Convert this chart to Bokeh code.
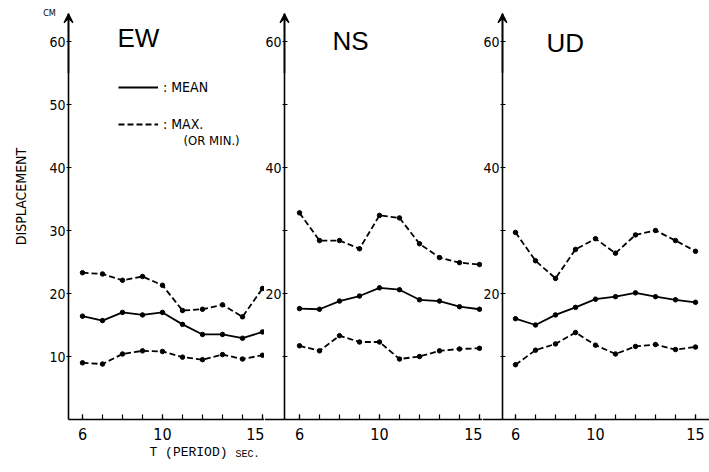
import math
from bokeh.plotting import figure
from bokeh.layouts import row
from bokeh.models import (FixedTicker, Range1d, Label, Legend, LegendItem, Arrow, VeeHead)
from bokeh.embed import file_html
from bokeh.resources import INLINE

# ---------------- data ----------------
period = [6, 7, 8, 9, 10, 11, 12, 13, 14, 15]

ew_max = [23.3, 23.1, 22.1, 22.7, 21.3, 17.3, 17.5, 18.2, 16.3, 20.8]
ew_mean = [16.4, 15.7, 17.0, 16.6, 17.0, 15.1, 13.5, 13.5, 12.9, 13.9]
ew_min = [9.0, 8.8, 10.4, 10.9, 10.8, 9.9, 9.5, 10.3, 9.6, 10.2]

ns_max = [32.8, 28.4, 28.4, 27.1, 32.4, 32.0, 27.9, 25.7, 24.9, 24.6]
ns_mean = [17.6, 17.5, 18.8, 19.6, 20.9, 20.6, 19.0, 18.8, 17.9, 17.5]
ns_min = [11.7, 10.9, 13.3, 12.3, 12.3, 9.6, 10.0, 10.9, 11.2, 11.3]

ud_max = [29.7, 25.2, 22.4, 27.0, 28.7, 26.4, 29.3, 30.0, 28.4, 26.7]
ud_mean = [16.0, 15.0, 16.6, 17.8, 19.1, 19.5, 20.1, 19.5, 19.0, 18.6]
ud_min = [8.7, 11.0, 12.0, 13.8, 11.8, 10.4, 11.6, 11.9, 11.1, 11.5]

x_ticks = [6, 10, 15]
ew_y_ticks = [10, 20, 30, 40, 50, 60]
ns_y_ticks = [20, 40, 60]
ns_y_minor = [10, 30, 50]
panel_names = ["EW", "NS", "UD"]

# ---------------- layout constants (pixels) ----------------
H = 472
Y0_PX = 419          # pixel row of displacement 0
PX_Y = 6.3           # pixels per cm
PX_X = 20.0          # pixels per second
Y_AXIS_TOP = 64.4    # where the y axis (arrow) ends
LABEL_FONT = "DejaVu Sans Condensed"
MONO = "Liberation Mono"
TITLE_FONT = "Liberation Sans"


def make_panel(fig_left, width, px6, axis_px, xaxis_from_left,
               y_major, y_minor, maxv, meanv, minv):
    # frame == whole figure; axes are pinned with fixed_location
    x_start = 6 + (fig_left - px6) / PX_X
    x_end = x_start + width / PX_X
    y_start = -(H - Y0_PX) / PX_Y
    y_end = Y0_PX / PX_Y
    x_axis_pos = 6 + (axis_px - px6) / PX_X

    p = figure(width=width, height=H, x_range=Range1d(x_start, x_end),
               y_range=Range1d(y_start, y_end), output_backend="svg",
               toolbar_location=None, title=None,
               min_border_left=0, min_border_right=0,
               min_border_top=0, min_border_bottom=0)
    p.outline_line_color = None
    p.xgrid.visible = False
    p.ygrid.visible = False
    p.background_fill_color = "white"
    p.border_fill_color = "white"

    xa = p.xaxis[0]
    xa.fixed_location = 0
    xa.bounds = ((x_start if xaxis_from_left else x_axis_pos), x_end)
    xa.ticker = FixedTicker(ticks=x_ticks, minor_ticks=period)
    xa.axis_line_width = 1.6
    xa.major_tick_in = 5
    xa.major_tick_out = 0
    xa.minor_tick_in = 5
    xa.minor_tick_out = 0
    xa.major_tick_line_width = 1.2
    xa.minor_tick_line_width = 1.2
    xa.major_label_standoff = 8
    xa.major_label_text_font = LABEL_FONT
    xa.major_label_text_font_size = "16px"
    xa.major_label_text_color = "black"

    ya = p.yaxis[0]
    ya.fixed_location = x_axis_pos
    ya.bounds = (0, Y_AXIS_TOP)
    ya.ticker = FixedTicker(ticks=y_major, minor_ticks=y_minor)
    ya.axis_line_width = 1.6
    ya.major_tick_in = 3
    ya.major_tick_out = 2
    ya.minor_tick_in = 3
    ya.minor_tick_out = 2
    ya.major_tick_line_width = 1.2
    ya.minor_tick_line_width = 1.2
    ya.major_label_standoff = 1
    ya.major_label_text_font = LABEL_FONT
    ya.major_label_text_font_size = "14px"
    ya.major_label_text_color = "black"

    r_max = p.line(period, maxv, line_color="black", line_width=1.8, line_dash="6 3")
    p.scatter(period, maxv, size=4.5, color="black")
    r_mean = p.line(period, meanv, line_color="black", line_width=1.8)
    p.scatter(period, meanv, size=4.5, color="black")
    p.line(period, minv, line_color="black", line_width=1.8, line_dash="6 3")
    p.scatter(period, minv, size=4.5, color="black")

    p.add_layout(Arrow(x_start=x_axis_pos, y_start=55, x_end=x_axis_pos, y_end=Y_AXIS_TOP,
                       line_width=1.6, line_color="black",
                       end=VeeHead(size=9, line_width=1.2, line_color="black",
                                   fill_color="black")))
    geo = (fig_left, x_start)
    return p, r_mean, r_max, geo


def lab(p, geo, px, py, text, size, font, align="left", baseline="middle", angle=0.0):
    # px, py: page pixel position of the text anchor
    fig_left, x_start = geo
    p.add_layout(Label(x=x_start + (px - fig_left) / PX_X, y=(Y0_PX - py) / PX_Y,
                       text=text, text_font=font, text_font_size=size,
                       text_align=align, text_baseline=baseline, angle=angle,
                       text_color="black"))


# EW: page 0..264 ; NS: 264..482 ; UD: 482..709
p1, m1, x1, g1 = make_panel(0, 264, 82, 68, False, ew_y_ticks, [], ew_max, ew_mean, ew_min)
p2, m2, x2, g2 = make_panel(264, 218, 299, 284, True, ns_y_ticks, ns_y_minor, ns_max, ns_mean, ns_min)
p3, m3, x3, g3 = make_panel(482, 227, 515, 502, True, ns_y_ticks, ns_y_minor, ud_max, ud_mean, ud_min)

# panel titles
lab(p1, g1, 117, 37, panel_names[0], "26px", TITLE_FONT, baseline="alphabetic")
lab(p2, g2, 332, 40, panel_names[1], "26px", TITLE_FONT, baseline="alphabetic")
lab(p3, g3, 546, 42, panel_names[2], "26px", TITLE_FONT, baseline="alphabetic")

# legend (in EW panel); location is measured from the frame's bottom-left
legend = Legend(items=[LegendItem(label=": MEAN", renderers=[m1]),
                       LegendItem(label=": MAX.", renderers=[x1])],
                location=(118, H - 133), orientation="vertical",
                glyph_width=40, glyph_height=18, label_height=18,
                spacing=19, padding=0, margin=0, label_standoff=5,
                background_fill_alpha=0, border_line_alpha=0,
                label_text_font=LABEL_FONT, label_text_font_size="14px",
                label_text_color="black")
p1.add_layout(legend)
lab(p1, g1, 183, 140, "(OR MIN.)", "13px", LABEL_FONT)

# axis annotations
lab(p1, g1, 20, 196, "DISPLACEMENT", "14px", LABEL_FONT, align="center", angle=math.pi / 2)
lab(p1, g1, 49, 12, "CM", "9px", LABEL_FONT, align="center")
lab(p1, g1, 149, 452, "T (PERIOD)", "13px", MONO)
lab(p1, g1, 235, 454, "SEC.", "10px", MONO)

layout = row(p1, p2, p3, spacing=0)
open("out.html", "w").write(file_html(layout, INLINE))
